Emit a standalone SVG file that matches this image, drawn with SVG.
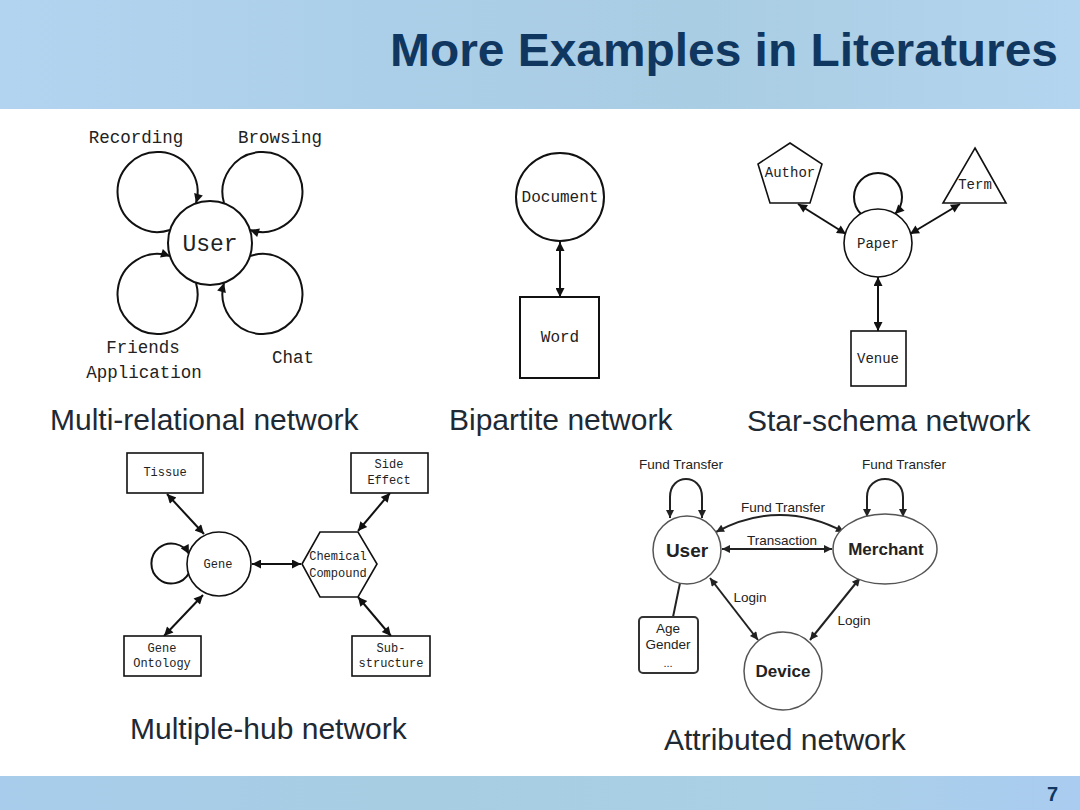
<svg xmlns="http://www.w3.org/2000/svg" width="1080" height="810" viewBox="0 0 1080 810">
<defs>
<linearGradient id="hdr" x1="0" y1="0" x2="1" y2="0">
<stop offset="0" stop-color="#b3d4f0"/>
<stop offset="0.35" stop-color="#accfe9"/>
<stop offset="0.65" stop-color="#a9cde3"/>
<stop offset="1" stop-color="#b4d5ef"/>
</linearGradient>
<linearGradient id="ftr" x1="0" y1="0" x2="1" y2="0">
<stop offset="0" stop-color="#a8cdec"/>
<stop offset="0.4" stop-color="#a7cde2"/>
<stop offset="0.7" stop-color="#aad0e6"/>
<stop offset="1" stop-color="#a9ccf0"/>
</linearGradient>
<marker id="ah" viewBox="0 0 10 10" refX="10" refY="5" markerWidth="12" markerHeight="9" markerUnits="userSpaceOnUse" orient="auto-start-reverse">
<path d="M0,0 L10,5 L0,10 z" fill="#111"/>
</marker>
<marker id="ah2" viewBox="0 0 10 10" refX="10" refY="5" markerWidth="10" markerHeight="8" markerUnits="userSpaceOnUse" orient="auto-start-reverse">
<path d="M0,0 L10,5 L0,10 z" fill="#222"/>
</marker>
</defs>
<style>
.mono{font-family:"Liberation Mono","DejaVu Sans Mono",monospace;fill:#222;text-anchor:middle}
.sans{font-family:"Liberation Sans",Arial,sans-serif;fill:#222;text-anchor:middle}
.cap{font-family:"Liberation Sans",Arial,sans-serif;fill:#1e2933;font-size:30px}
.shape{fill:#fff;stroke:#111;stroke-width:2}
.thin{fill:#fff;stroke:#111;stroke-width:1.6}
.soft{fill:#fff;stroke:#555;stroke-width:1.5}
.edge{fill:none;stroke:#111;stroke-width:2}
.edge2{fill:none;stroke:#222;stroke-width:2}
.dbl{marker-start:url(#ah);marker-end:url(#ah)}
.one{marker-end:url(#ah)}
.dbl2{marker-start:url(#ah2);marker-end:url(#ah2)}
</style>

<rect x="0" y="0" width="1080" height="810" fill="#fff"/>
<rect x="0" y="0" width="1080" height="109" fill="url(#hdr)"/>
<rect x="0" y="776" width="1080" height="34" fill="url(#ftr)"/>
<text x="1058" y="66" text-anchor="end" font-family="Liberation Sans,Arial,sans-serif" font-weight="bold" font-size="47" fill="#10375f" textLength="668" lengthAdjust="spacingAndGlyphs">More Examples in Literatures</text>
<text x="1058" y="801" text-anchor="end" font-family="Liberation Sans,Arial,sans-serif" font-weight="bold" font-size="20" fill="#10375f">7</text>

<!-- Connectors -->
<g id="connectors">
<!-- panel 1 loops -->
<path class="edge one" d="M170,230 A40,40 0 1 1 196,203"/>
<path class="edge one" d="M224,203 A40,40 0 1 1 250,230"/>
<path class="edge one" d="M196,283 A40,40 0 1 1 170,256"/>
<path class="edge one" d="M250,256 A40,40 0 1 1 224,283"/>
<!-- panel 2 -->
<path class="edge dbl" d="M560,242 L560,297"/>
<!-- panel 3 -->
<path class="edge one" d="M861,214 A24,24 0 1 1 895,214"/>
<path class="edge dbl" d="M798,204 L846,234"/>
<path class="edge dbl" d="M960,204 L910,234"/>
<path class="edge dbl" d="M878,277 L878,331"/>
<!-- panel 4 -->
<path class="edge one" d="M189,573 A20,20 0 1 1 189,554"/>
<path class="edge dbl" d="M167,494 L204,534"/>
<path class="edge dbl" d="M203,595 L164,636"/>
<path class="edge dbl" d="M252,564 L301,564"/>
<path class="edge dbl" d="M358,531 L390,493"/>
<path class="edge dbl" d="M358,597 L391,636"/>
<!-- panel 5 -->
<path class="edge2 dbl2" d="M670,518 L670,497 C670,473 702,473 702,497 L702,518"/>
<path class="edge2 dbl2" d="M867,517 L867,497 C867,473 903,473 903,497 L903,517"/>
<path class="edge2 dbl2" d="M716,532 Q780,498 844,532"/>
<path class="edge2 dbl2" d="M722,549 L832,549"/>
<path class="edge2 dbl2" d="M710,578 L758,640"/>
<path class="edge2 dbl2" d="M860,578 L810,640"/>
<path class="edge2" d="M680,583 L673,617"/>
</g>

<!-- Panel 1: Multi-relational -->
<g id="user1">
<circle class="shape" cx="210" cy="243" r="42" stroke-width="2.5"/>
<text class="mono" x="210" y="251" font-size="23">User</text>
</g>
<g id="lbl-recording"><text class="mono" x="136" y="143" font-size="17.5">Recording</text></g>
<g id="lbl-browsing"><text class="mono" x="280" y="143" font-size="17.5">Browsing</text></g>
<g id="lbl-friends"><text class="mono" x="143" y="353" font-size="17.5">Friends</text><text class="mono" x="144" y="378" font-size="17.5">Application</text></g>
<g id="lbl-chat"><text class="mono" x="293" y="363" font-size="17.5">Chat</text></g>
<text class="cap" x="50" y="430">Multi-relational network</text>

<!-- Panel 2: Bipartite -->
<g id="document">
<circle class="shape" cx="560" cy="197" r="44"/>
<text class="mono" x="560" y="202" font-size="16">Document</text>
</g>
<g id="word">
<rect class="shape" x="520" y="297" width="79" height="81"/>
<text class="mono" x="560" y="342" font-size="16">Word</text>
</g>
<text class="cap" x="449" y="430">Bipartite network</text>

<!-- Panel 3: Star-schema -->
<g id="author">
<polygon class="thin" points="790,143 822,164 810,203 770,203 758,164"/>
<text class="mono" x="790" y="177" font-size="14">Author</text>
</g>
<g id="term">
<polygon class="thin" points="975,148 1006,203 943,203"/>
<text class="mono" x="975" y="189" font-size="14">Term</text>
</g>
<g id="paper">
<circle class="thin" cx="878" cy="243" r="34"/>
<text class="mono" x="878" y="248" font-size="14">Paper</text>
</g>
<g id="venue">
<rect class="thin" x="851" y="331" width="55" height="55"/>
<text class="mono" x="878" y="363" font-size="14">Venue</text>
</g>
<text class="cap" x="747" y="431">Star-schema network</text>

<!-- Panel 4: Multiple-hub -->
<g id="tissue">
<rect class="thin" x="127" y="453" width="76" height="40"/>
<text class="mono" x="165" y="476" font-size="12">Tissue</text>
</g>
<g id="side-effect">
<rect class="thin" x="351" y="453" width="77" height="40"/>
<text class="mono" x="389" y="468" font-size="12">Side</text>
<text class="mono" x="389" y="484" font-size="12">Effect</text>
</g>
<g id="gene">
<circle class="thin" cx="219" cy="564" r="32"/>
<text class="mono" x="218" y="568" font-size="12">Gene</text>
</g>
<g id="chemical">
<polygon class="thin" points="302,564 320,532 358,532 377,564 358,597 320,597"/>
<text class="mono" x="338" y="560" font-size="12">Chemical</text>
<text class="mono" x="338" y="577" font-size="12">Compound</text>
</g>
<g id="gene-ontology">
<rect class="thin" x="124" y="636" width="77" height="40"/>
<text class="mono" x="162" y="652" font-size="12">Gene</text>
<text class="mono" x="162" y="667" font-size="12">Ontology</text>
</g>
<g id="substructure">
<rect class="thin" x="352" y="636" width="78" height="40"/>
<text class="mono" x="391" y="652" font-size="12">Sub-</text>
<text class="mono" x="391" y="667" font-size="12">structure</text>
</g>
<text class="cap" x="130" y="739">Multiple-hub network</text>

<!-- Panel 5: Attributed -->
<g id="user5">
<circle class="soft" cx="687" cy="550" r="34"/>
<text class="sans" x="687" y="557" font-size="19" font-weight="bold">User</text>
</g>
<g id="merchant">
<ellipse class="soft" cx="885" cy="549" rx="52" ry="35"/>
<text class="sans" x="886" y="555" font-size="17" font-weight="bold">Merchant</text>
</g>
<g id="device">
<circle class="soft" cx="783" cy="671" r="39"/>
<text class="sans" x="783" y="677" font-size="17" font-weight="bold">Device</text>
</g>
<g id="attributes">
<rect x="639" y="617" width="59" height="56" rx="4" fill="#fff" stroke="#333" stroke-width="2"/>
<text class="sans" x="668" y="633" font-size="13.5" fill="#333">Age</text>
<text class="sans" x="668" y="649" font-size="13.5" fill="#333">Gender</text>
<text class="sans" x="668" y="667" font-size="11" fill="#333">...</text>
</g>
<g id="edge-labels">
<text class="sans" x="681" y="469" font-size="13.5">Fund Transfer</text>
<text class="sans" x="904" y="469" font-size="13.5">Fund Transfer</text>
<text class="sans" x="783" y="512" font-size="13.5">Fund Transfer</text>
<text class="sans" x="782" y="545" font-size="13.5">Transaction</text>
<text class="sans" x="750" y="602" font-size="13.5">Login</text>
<text class="sans" x="854" y="625" font-size="13.5">Login</text>
</g>
<text class="cap" x="664" y="750">Attributed network</text>
</svg>
